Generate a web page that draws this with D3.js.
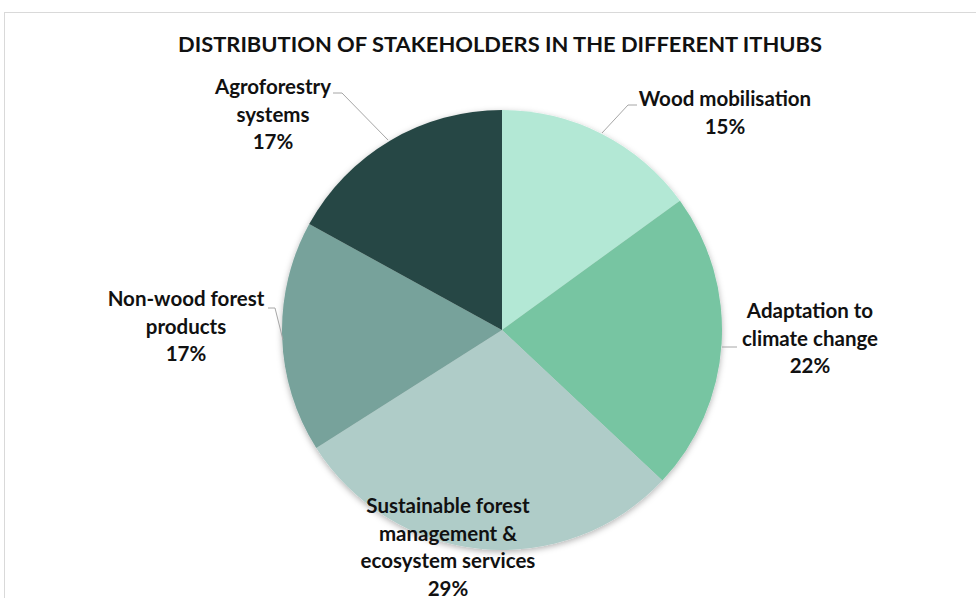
<!DOCTYPE html>
<html><head><meta charset="utf-8">
<script src="https://cdn.jsdelivr.net/npm/d3@7"></script>
<style>body{margin:0;background:#fff;}svg{display:block;}text{font-family:Lato,"Open Sans",sans-serif;font-weight:bold;fill:#111;}</style>
</head><body><svg id="c" width="976" height="598"></svg>
<script>
const categories = ["Wood mobilisation","Adaptation to climate change","Sustainable forest management & ecosystem services","Non-wood forest products","Agroforestry systems"];
const values = [15,22,29,17,17];
const labelLines = [["Wood mobilisation","15%"],["Adaptation to","climate change","22%"],["Sustainable forest","management &","ecosystem services","29%"],["Non-wood forest","products","17%"],["Agroforestry","systems","17%"]];
const colors = ["#b3e8d5","#77c5a2","#afccc8","#77a29b","#274744"];
const title = "DISTRIBUTION OF STAKEHOLDERS IN THE DIFFERENT ITHUBS";

const svg = d3.select("#c");
const defs = svg.append("defs");
const f = defs.append("filter").attr("id","sh").attr("x","-20%").attr("y","-20%").attr("width","140%").attr("height","140%");
f.append("feDropShadow").attr("dx",0).attr("dy",2).attr("stdDeviation",3).attr("flood-color","#000").attr("flood-opacity",0.3);

svg.append("rect").attr("x",4.5).attr("y",12.5).attr("width",1000).attr("height",700).attr("fill","#fff").attr("stroke","#d9d9d9").attr("stroke-width",1);

svg.append("text").attr("x",500).attr("y",52).attr("text-anchor","middle").style("font-size","20px")
  .attr("textLength",644).attr("lengthAdjust","spacingAndGlyphs").text(title);

const cx=502, cy=330, r=220;
const pie = d3.pie().sort(null).value(d=>d)(values);
const arc = d3.arc().innerRadius(0).outerRadius(r);
const g = svg.append("g").attr("transform",`translate(${cx},${cy})`);
g.append("g").attr("filter","url(#sh)").selectAll("path").data(pie).join("path")
  .attr("d",arc).attr("fill",(d,i)=>colors[i]);

const labelPos = [[725,106],[810,318],[448,513],[186,306],[273,94]];
const leaders = [
  [[637,105],[628,105],[602,133]],
  [[722,347],[737,347]],
  null,
  [[268,308],[275,308],[283,340]],
  [[333,93],[342,93],[388,140]]
];
const line = d3.line();
svg.append("g").selectAll("path").data(leaders.filter(d=>d)).join("path")
  .attr("d",d=>line(d)).attr("fill","none").attr("stroke","#a6a6a6").attr("stroke-width",1);

const lg = svg.append("g");
labelLines.forEach((lines,i)=>{
  const t = lg.append("text").attr("text-anchor","middle").style("font-size","20.5px");
  lines.forEach((s,j)=>{
    t.append("tspan").attr("x",labelPos[i][0]).attr("y",labelPos[i][1]+j*27.5).text(s);
  });
});
</script></body></html>
